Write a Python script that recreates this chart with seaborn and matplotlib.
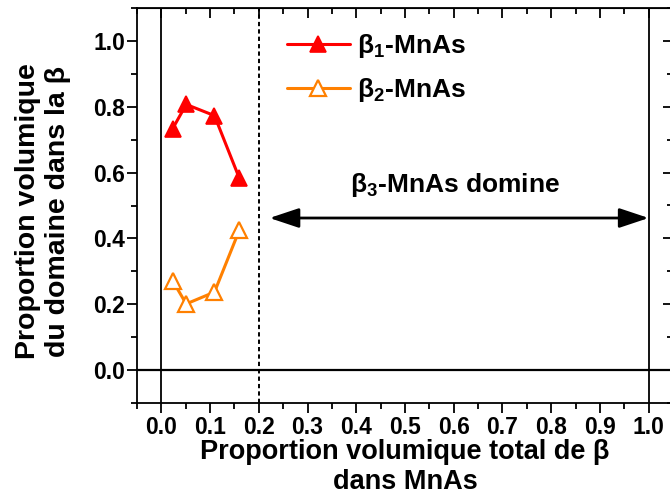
import matplotlib
matplotlib.use("Agg")
import matplotlib.pyplot as plt
import seaborn as sns
import pandas as pd

# Volume fraction of each domain type vs. total beta fraction in MnAs
beta_total = [0.023, 0.051, 0.109, 0.160]
beta1_frac = [0.733, 0.807, 0.773, 0.583]
beta2_frac = [0.272, 0.201, 0.237, 0.425]

series_labels = [r"$\beta_1$-MnAs", r"$\beta_2$-MnAs"]
series_colors = ["#FF0000", "#FF8000"]
x_ticks = [0.0, 0.1, 0.2, 0.3, 0.4, 0.5, 0.6, 0.7, 0.8, 0.9, 1.0]
y_ticks = [0.0, 0.2, 0.4, 0.6, 0.8, 1.0]

df1 = pd.DataFrame({"x": beta_total, "y": beta1_frac})
df2 = pd.DataFrame({"x": beta_total, "y": beta2_frac})

sns.set_style("ticks")
plt.rcParams["font.family"] = ["Liberation Sans", "DejaVu Sans"]
plt.rcParams["font.weight"] = "bold"
plt.rcParams["mathtext.fontset"] = "custom"
plt.rcParams["mathtext.rm"] = "Liberation Sans"
plt.rcParams["mathtext.it"] = "Liberation Sans"
plt.rcParams["mathtext.bf"] = "Liberation Sans:bold"
plt.rcParams["mathtext.default"] = "rm"
for key in ["text.color", "axes.labelcolor", "xtick.color", "ytick.color",
            "axes.edgecolor"]:
    plt.rcParams[key] = "black"

W, H = 670, 497
fig = plt.figure(figsize=(W / 100, H / 100), dpi=100)
ax = fig.add_axes([137 / W, 94 / H, 536 / W, 395 / H])

sns.lineplot(data=df1, x="x", y="y", ax=ax, color=series_colors[0],
             marker="^", markersize=11, markeredgewidth=1.2,
             markeredgecolor=series_colors[0], linewidth=2.2,
             label=series_labels[0])
sns.lineplot(data=df2, x="x", y="y", ax=ax, color=series_colors[1],
             marker="^", markersize=11, markeredgewidth=1.6,
             markerfacecolor="white", markeredgecolor=series_colors[1],
             linewidth=2.2, label=series_labels[1])

# reference lines
ax.axvline(0.0, color="black", lw=1.3, zorder=1)
ax.axhline(0.0, color="black", lw=1.6, zorder=1)
ax.axvline(1.0, color="black", lw=1.3, zorder=1)
ax.axvline(0.2, color="black", lw=1.4, ls=(0, (2.2, 1.6)), zorder=1)

# region where beta3 dominates
ax.annotate("", xy=(1.0, 0.462), xytext=(0.222, 0.462),
            arrowprops=dict(arrowstyle="<|-|>,head_length=0.9,head_width=0.3",
                            color="black", lw=2.0, mutation_scale=20,
                            shrinkA=0, shrinkB=0))
ax.text(0.602, 0.562, r"$\beta_3$-MnAs domine", ha="center", va="center",
        fontsize=19, fontweight="bold")

ax.set_xlim(-0.05, 1.05)
ax.set_ylim(-0.1, 1.1)
ax.set_xticks(x_ticks)
ax.set_xticks([-0.05 + 0.1 * i for i in range(11)] + [1.05], minor=True)
ax.set_yticks(y_ticks)
ax.set_yticks([-0.1, 0.1, 0.3, 0.5, 0.7, 0.9, 1.1], minor=True)
ax.set_xticklabels([f"{v:.1f}" for v in x_ticks])
ax.set_yticklabels([f"{v:.1f}" for v in y_ticks])
ax.tick_params(which="major", direction="out", length=7, width=1.3,
               labelsize=16.5, pad=1.5)
ax.tick_params(which="minor", direction="out", length=4, width=1.3)
ax.tick_params(axis="x", pad=2.5)
for lbl in ax.get_xticklabels() + ax.get_yticklabels():
    lbl.set_fontweight("bold")
for sp in ax.spines.values():
    sp.set_linewidth(1.3)
    sp.set_visible(True)

# inward ticks on top and right
top = ax.secondary_xaxis("top")
top.set_xticks(x_ticks)
top.set_xticks([-0.05 + 0.1 * i for i in range(11)], minor=True)
top.tick_params(which="major", direction="in", length=7, width=1.3, labeltop=False)
top.tick_params(which="minor", direction="in", length=4, width=1.3)
right = ax.secondary_yaxis("right")
right.set_yticks(y_ticks)
right.set_yticks([-0.1, 0.1, 0.3, 0.5, 0.7, 0.9, 1.1], minor=True)
right.tick_params(which="major", direction="in", length=7, width=1.3, labelright=False)
right.tick_params(which="minor", direction="in", length=4, width=1.3)

ax.set_xlabel("")
ax.set_ylabel("")
fig.text(405 / W, 1 - 467 / H, "Proportion volumique total de β\ndans MnAs",
         ha="center", va="center", fontsize=19.5, fontweight="bold",
         linespacing=1.2)
fig.text(43 / W, 1 - 211 / H, "Proportion volumique\ndu domaine dans la β",
         ha="center", va="center", rotation=90, fontsize=20.5,
         fontweight="bold", linespacing=1.2)

leg = ax.legend(loc="upper left", bbox_to_anchor=(0.245, 0.985), frameon=False,
                fontsize=19, handlelength=2.4, handletextpad=0.25,
                labelspacing=0.6, borderaxespad=0.3)
for t in leg.get_texts():
    t.set_fontweight("bold")

fig.savefig("out.png", dpi=100)
